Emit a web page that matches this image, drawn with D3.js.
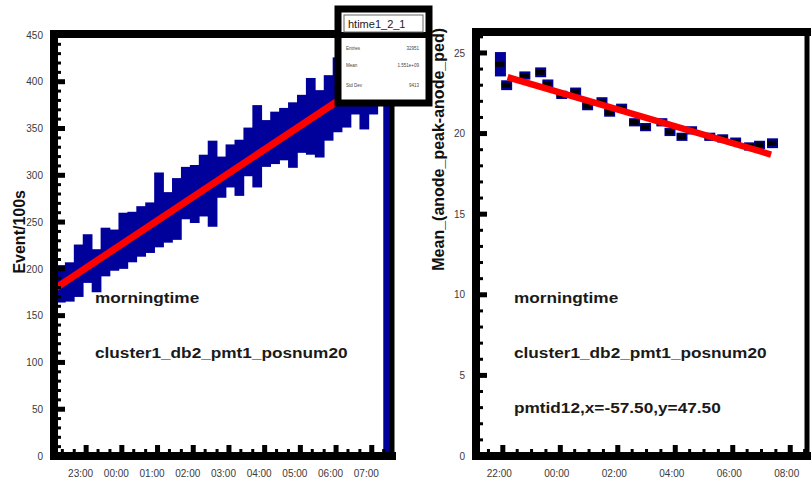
<!DOCTYPE html>
<html>
<head>
<meta charset="utf-8">
<title>htime1_2_1</title>
<script src="https://d3js.org/d3.v7.min.js"></script>
<style>
  body { margin: 0; background: #fff; }
  svg { display: block; font-family: "Liberation Sans", Arial, Helvetica, sans-serif; }
  .tick-label text { font-size: 10px; fill: #3a3a3a; }
  .axis-title { font-size: 16px; font-weight: bold; fill: #111; }
  .note { font-size: 14px; font-weight: bold; fill: #1a1a1a; }
</style>
</head>
<body>
<svg id="chart" width="811" height="479"></svg>
<script>
// ---- left pad: Event/100s histogram (15 min bins) ----
var leftBinStarts = ["22:10", "22:25", "22:40", "22:55", "23:10", "23:25", "23:40", "23:55",
    "00:10", "00:25", "00:40", "00:55", "01:10", "01:25", "01:40", "01:55",
    "02:10", "02:25", "02:40", "02:55", "03:10", "03:25", "03:40", "03:55",
    "04:10", "04:25", "04:40", "04:55", "05:10", "05:25", "05:40", "05:55",
    "06:10", "06:25", "06:40", "06:55", "07:20"];
var leftBinMinutes = 15;
var leftValues = [184, 186, 198, 211, 198, 218, 220, 230, 234, 240, 244, 263, 255, 264, 281, 280,
    289, 291, 298, 310, 308, 325, 331, 334, 340, 344, 343, 355, 363, 355, 372, 386,
    391, 395, 380, 395, 189];
var leftErrors = [20, 21, 28, 26, 23, 26, 22, 30, 27, 27, 27, 40, 27, 33, 28, 31,
    33, 46, 22, 23, 30, 26, 44, 25, 28, 28, 35, 31, 41, 36, 35, 40,
    40, 30, 31, 30, 189];
var leftFitTimes = ["22:10", "07:20"];
var leftFitValues = [180, 412];

// ---- right pad: Mean_(anode_peak-anode_ped) profile ----
var rightTimes = ["21:55", "22:08", "22:46", "23:19", "23:34", "00:03", "00:32", "00:57",
    "01:27", "01:43", "02:08", "02:35", "02:58", "03:32", "03:49", "04:14",
    "04:34", "05:12", "05:39", "06:06", "06:35", "06:56", "07:23"];
var rightValues = [24.3, 23.0, 23.6, 23.8, 23.1, 22.4, 22.6, 21.7, 22.0, 21.3, 21.6, 20.7,
    20.4, 20.7, 20.1, 19.8, 20.2, 19.8, 19.7, 19.5, 19.2, 19.3, 19.4];
var rightErrors = [0.6, 0.15, 0.1, 0.15, 0.1, 0.1, 0.1, 0.1, 0.1, 0.1, 0.1, 0.1,
    0.1, 0.1, 0.1, 0.1, 0.1, 0.1, 0.1, 0.1, 0.1, 0.1, 0.15];
var rightFitTimes = ["22:10", "07:20"];
var rightFitValues = [23.5, 18.7];

// ---- texts ----
var statsTitle = "htime1_2_1";
var statsLabels = ["Entries", "Mean", "Std Dev"];
var statsValues = ["32951", "1.551e+09", "9413"];
var leftNotes = ["morningtime", "cluster1_db2_pmt1_posnum20"];
var rightNotes = ["morningtime", "cluster1_db2_pmt1_posnum20", "pmtid12,x=-57.50,y=47.50"];

var blue = "#00009a", red = "#ff0000";

// "HH:MM" -> Date, hours >= 12 belong to the evening before
function toDate(hhmm) {
    var p = hhmm.split(":").map(Number);
    var mins = (p[0] >= 12 ? p[0] - 24 : p[0]) * 60 + p[1];
    return new Date(Date.UTC(2000, 0, 2) + mins * 60000);
}

var svg = d3.select("#chart");
svg.append("rect").attr("width", 811).attr("height", 479).attr("fill", "#fff");

var panels = [
    {
        left: 54, right: 392, top: 34, bottom: 456, rightEdge: 5,
        xDomain: ["22:06", "07:34"], yDomain: [0, 451],
        yMajor: 10, yMinor: 45, xMajor: d3.utcHour.every(1), xMinor: d3.utcMinute.every(20),
        labelShift: -6, title: "Event/100s", titleX: 25, titleY: 190,
        notes: leftNotes, noteX: 95, noteY: [303, 358, 413]
    },
    {
        left: 476, right: 807, top: 32, bottom: 456, rightEdge: 5,
        xDomain: ["21:04", "08:35"], yDomain: [0, 26.3],
        yMajor: 6, yMinor: 26, xMajor: d3.utcHour.every(2), xMinor: d3.utcMinute.every(30),
        labelShift: -4, title: "Mean_(anode_peak-anode_ped)", titleX: 444, titleY: 28,
        notes: rightNotes, noteX: 514, noteY: [303, 358, 413]
    }
];

panels.forEach(function(p) {
    p.x = d3.scaleUtc().domain(p.xDomain.map(toDate)).range([p.left, p.right]);
    p.y = d3.scaleLinear().domain(p.yDomain).range([p.bottom, p.top]);
});

// left histogram with thick error bars
(function() {
    var p = panels[0], x = p.x, y = p.y;
    var g = svg.append("g");
    var bins = leftBinStarts.map(function(t, i) {
        var t0 = toDate(t);
        return { t0: t0, t1: new Date(+t0 + leftBinMinutes * 60000), v: leftValues[i], e: leftErrors[i] };
    });
    g.selectAll("rect").data(bins).enter().append("rect")
        .attr("x", function(d) { return x(d.t0) - 0.4; })
        .attr("width", function(d, i) {
            return (i === bins.length - 1 ? 6 : x(d.t1) - x(d.t0)) + 0.8;
        })
        .attr("y", function(d) { return y(d.v + d.e); })
        .attr("height", function(d) { return y(Math.max(0, d.v - d.e)) - y(d.v + d.e); })
        .attr("fill", blue);
    g.append("line")
        .attr("x1", x(toDate(leftFitTimes[0]))).attr("y1", y(leftFitValues[0]))
        .attr("x2", x(toDate(leftFitTimes[1]))).attr("y2", y(leftFitValues[1]))
        .attr("stroke", red).attr("stroke-width", 7);
})();

// right profile points
(function() {
    var p = panels[1], x = p.x, y = p.y;
    var g = svg.append("g");
    var pts = rightTimes.map(function(t, i) {
        return { t: toDate(t), v: rightValues[i], e: rightErrors[i] };
    });
    g.selectAll("rect.err").data(pts).enter().append("rect")
        .attr("class", "err")
        .attr("x", function(d) { return x(d.t) - 5.5; })
        .attr("width", 11)
        .attr("y", function(d) { return y(d.v + d.e) - 2.5; })
        .attr("height", function(d) { return y(d.v - d.e) - y(d.v + d.e) + 5; })
        .attr("fill", blue);
    g.selectAll("rect.mk").data(pts).enter().append("rect")
        .attr("class", "mk")
        .attr("x", function(d) { return x(d.t) - 5; })
        .attr("width", 9)
        .attr("y", function(d) { return y(d.v) - 2.5; })
        .attr("height", 5)
        .attr("fill", "#000");
    g.append("line")
        .attr("x1", x(toDate(rightFitTimes[0]))).attr("y1", y(rightFitValues[0]))
        .attr("x2", x(toDate(rightFitTimes[1]))).attr("y2", y(rightFitValues[1]))
        .attr("stroke", red).attr("stroke-width", 6.5);
})();

// frames, ticks, labels, titles, notes
panels.forEach(function(p) {
    var x = p.x, y = p.y, fw = 8;
    var g = svg.append("g");

    // ticks (ROOT style, heavy blobs on the inner side)
    var yMinorTicks = y.ticks(p.yMinor), yMajorTicks = y.ticks(p.yMajor);
    g.selectAll("rect.ymin").data(yMinorTicks).enter().append("rect")
        .attr("x", p.left).attr("width", fw / 2 + 3)
        .attr("y", function(d) { return y(d) - 1.5; }).attr("height", 3)
        .attr("fill", "#000");
    g.selectAll("rect.ymaj").data(yMajorTicks).enter().append("rect")
        .attr("x", p.left).attr("width", fw / 2 + 7)
        .attr("y", function(d) { return y(d) - 2.5; }).attr("height", 5)
        .attr("fill", "#000");
    var xMinorTicks = x.ticks(p.xMinor), xMajorTicks = x.ticks(p.xMajor);
    g.selectAll("rect.xmin").data(xMinorTicks).enter().append("rect")
        .attr("x", function(d) { return x(d) - 1.5; }).attr("width", 3)
        .attr("y", p.bottom - fw / 2 - 3).attr("height", fw / 2 + 3)
        .attr("fill", "#000");
    g.selectAll("rect.xmaj").data(xMajorTicks).enter().append("rect")
        .attr("x", function(d) { return x(d) - 2.5; }).attr("width", 5)
        .attr("y", p.bottom - fw / 2 - 7).attr("height", fw / 2 + 7)
        .attr("fill", "#000");

    // frame
    g.append("path")
        .attr("d", "M" + p.right + "," + p.top + "H" + p.left + "V" + p.bottom + "H" + p.right)
        .attr("fill", "none").attr("stroke", "#000").attr("stroke-width", fw)
        .attr("stroke-linecap", "square");
    g.append("line")
        .attr("x1", p.right).attr("x2", p.right)
        .attr("y1", p.top - fw / 2).attr("y2", p.bottom + fw / 2)
        .attr("stroke", "#000").attr("stroke-width", p.rightEdge);

    // labels
    var yAxis = g.append("g").attr("class", "tick-label")
        .attr("transform", "translate(" + (p.left - 11) + ",0)")
        .call(d3.axisLeft(y).tickValues(yMajorTicks).tickSize(0).tickPadding(0));
    yAxis.select(".domain").remove();
    var xAxis = g.append("g").attr("class", "tick-label")
        .attr("transform", "translate(" + p.labelShift + "," + p.bottom + ")")
        .call(d3.axisBottom(x).ticks(p.xMajor).tickFormat(d3.utcFormat("%H:%M"))
            .tickSize(0).tickPadding(14));
    xAxis.select(".domain").remove();
    g.selectAll(".tick-label text").attr("font-family", null).attr("font-size", null);

    g.append("text").attr("class", "axis-title")
        .attr("transform", "translate(" + p.titleX + "," + p.titleY + ") rotate(-90)")
        .attr("text-anchor", "end")
        .text(p.title);

    g.selectAll("text.note").data(p.notes).enter().append("text")
        .attr("class", "note")
        .attr("transform", function(d, i) {
            return "translate(" + p.noteX + "," + p.noteY[i] + ") scale(1.23,1)";
        })
        .text(function(d) { return d; });
});

// stats box
(function() {
    var g = svg.append("g");
    g.append("rect").attr("x", 338).attr("y", 9).attr("width", 91).attr("height", 94)
        .attr("fill", "#fff").attr("stroke", "#000").attr("stroke-width", 7);
    g.append("line").attr("x1", 338).attr("x2", 429).attr("y1", 35).attr("y2", 35)
        .attr("stroke", "#000").attr("stroke-width", 6);
    g.append("rect").attr("x", 344).attr("y", 15).attr("width", 79).attr("height", 17)
        .attr("fill", "none").attr("stroke", "#666").attr("stroke-width", 1);
    g.append("text").attr("x", 348).attr("y", 28)
        .attr("font-size", 11).attr("fill", "#222")
        .text(statsTitle);
    var rowY = [50, 67, 87];
    statsLabels.forEach(function(s, i) {
        g.append("text").attr("x", 346).attr("y", rowY[i])
            .attr("font-size", 4.5).attr("fill", "#444").text(s);
        g.append("text").attr("x", 419).attr("y", rowY[i])
            .attr("font-size", 4.5).attr("fill", "#444").attr("text-anchor", "end")
            .text(statsValues[i]);
    });
})();
</script>
</body>
</html>
